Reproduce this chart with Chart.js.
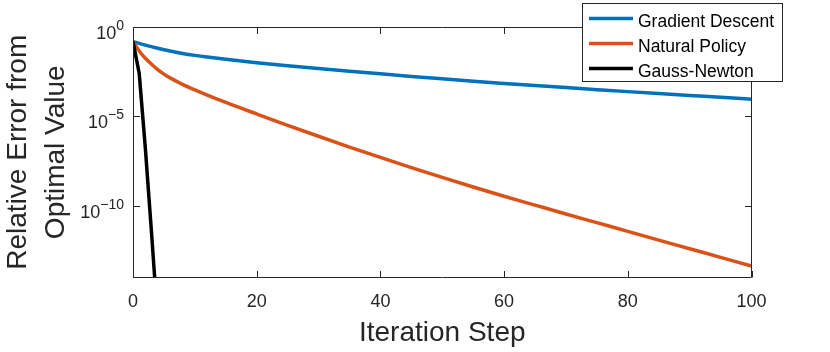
<!DOCTYPE html>
<html><head><meta charset="utf-8">
<script src="https://cdn.jsdelivr.net/npm/chart.js@4.4.0/dist/chart.umd.min.js"></script>
<style>html,body{margin:0;padding:0;background:#fff;}canvas{display:block;}</style>
</head><body>
<canvas id="c" width="830" height="352"></canvas>
<script>
// ---- data ----
const seriesNames = ['Gradient Descent', 'Natural Policy', 'Gauss-Newton'];
const gdSteps  = [0,1,2,4,6,8,10,12,15,20,25,30,35,40,45,50,55,60,65,70,75,80,85,90,95,100];
const gdValues = [1.45e-1,1.15e-1,9.23e-2,6.15e-2,4.30e-2,3.18e-2,2.47e-2,1.99e-2,1.49e-2,9.73e-3,
                  6.58e-3,4.55e-3,3.22e-3,2.31e-3,1.67e-3,1.22e-3,9.08e-4,6.81e-4,5.16e-4,3.96e-4,
                  3.06e-4,2.37e-4,1.85e-4,1.46e-4,1.14e-4,9.03e-5];
const npSteps  = [0,1,2,3,4,5,6,8,10,12,15,20,25,30,35,40,45,50,55,60,65,70,75,80,85,90,95,100];
const npValues = [1.45e-1,4.37e-2,1.70e-2,7.94e-3,3.98e-3,2.24e-3,1.38e-3,6.03e-4,2.95e-4,1.51e-4,
                  5.89e-5,1.35e-5,3.16e-6,7.76e-7,1.95e-7,5.13e-8,1.40e-8,3.98e-9,1.17e-9,3.55e-10,
                  1.14e-10,3.67e-11,1.20e-11,3.94e-12,1.29e-12,4.27e-13,1.41e-13,4.68e-14];
const gnSteps  = [0,1,2,3,4];
const gnValues = [1.45e-1,2.51e-3,1.58e-7,3.16e-12,3.98e-17];

const xTickValues = [0,20,40,60,80,100];
const xTickLabels = ['0','20','40','60','80','100'];
const yTickExponents = [0,-5,-10];
const xTitle = 'Iteration Step';
const yTitle = ['Relative Error from', 'Optimal Value'];
const colors = ['#0072BD', '#D95319', '#000000'];

// ---- chart ----
const axisColor = '#262626';
const FONT = "'Liberation Sans', Arial, Helvetica, sans-serif";
const toXY = (xs, ys) => xs.map((s, i) => ({x: s, y: ys[i]}));

const matlabAxes = {
  id: 'matlabAxes',
  afterDatasetsDraw(chart) {
    const {ctx, chartArea: a, scales: {x, y}} = chart;
    const L = Math.round(a.left) + 0.5, R = Math.round(a.right) - 0.5;
    const T = Math.round(a.top) + 0.5, B = Math.round(a.bottom) - 0.5;
    const tl = 6.5;
    ctx.save();
    ctx.strokeStyle = axisColor;
    ctx.lineWidth = 1;
    ctx.beginPath();
    ctx.rect(L, T, R - L, B - T);
    xTickValues.forEach(v => {
      const px = Math.round(x.getPixelForValue(v)) + 0.5;
      ctx.moveTo(px, B); ctx.lineTo(px, B - tl);
      ctx.moveTo(px, T); ctx.lineTo(px, T + tl);
    });
    yTickExponents.forEach(e => {
      const py = Math.round(y.getPixelForValue(Math.pow(10, e))) + 0.5;
      ctx.moveTo(L, py); ctx.lineTo(L + tl, py);
      ctx.moveTo(R, py); ctx.lineTo(R - tl, py);
    });
    ctx.stroke();
    // y tick labels: 10 with superscript exponent
    ctx.fillStyle = axisColor;
    ctx.textBaseline = 'alphabetic';
    ctx.textAlign = 'right';
    const rightEdge = a.left - 9;
    yTickExponents.forEach(e => {
      const py = y.getPixelForValue(Math.pow(10, e));
      const sup = (e < 0 ? '\u2212' : '') + Math.abs(e);
      ctx.font = '14px ' + FONT;
      const w = ctx.measureText(sup).width;
      ctx.fillText(sup, rightEdge, py + 3);
      ctx.font = '18px ' + FONT;
      ctx.fillText('10', rightEdge - w, py + 12);
    });
    ctx.restore();
  }
};

const legendBox = {
  id: 'legendBox',
  afterDraw(chart) {
    const {ctx} = chart;
    const bx = 582.5, by = 3.5, bw = 200, bh = 78;
    ctx.save();
    ctx.fillStyle = '#ffffff';
    ctx.fillRect(bx, by, bw, bh);
    ctx.strokeStyle = axisColor;
    ctx.lineWidth = 1;
    ctx.strokeRect(bx, by, bw, bh);
    ctx.font = '17.5px ' + FONT;
    ctx.textAlign = 'left';
    ctx.textBaseline = 'alphabetic';
    chart.data.datasets.forEach((ds, i) => {
      const base = 26.5 + i * 25;
      const ly = base - 8;
      ctx.strokeStyle = ds.borderColor;
      ctx.lineWidth = ds.borderWidth;
      ctx.beginPath();
      ctx.moveTo(589, ly); ctx.lineTo(633, ly);
      ctx.stroke();
      ctx.fillStyle = '#000';
      ctx.fillText(ds.label, 638, base);
    });
    ctx.restore();
  }
};

new Chart(document.getElementById('c'), {
  type: 'line',
  data: {
    datasets: [
      {label: seriesNames[0], data: toXY(gdSteps, gdValues), borderColor: colors[0], order: 2, cubicInterpolationMode: 'monotone'},
      {label: seriesNames[1], data: toXY(npSteps, npValues), borderColor: colors[1], order: 1, cubicInterpolationMode: 'monotone'},
      {label: seriesNames[2], data: toXY(gnSteps, gnValues), borderColor: colors[2], order: 0, tension: 0}
    ].map(d => Object.assign({borderWidth: 3.5, pointRadius: 0, fill: false, borderJoinStyle: 'round'}, d))
  },
  options: {
    responsive: false,
    animation: false,
    events: [],
    layout: {padding: {left: 0, right: 78.5, top: 26.5, bottom: 0}},
    plugins: {legend: {display: false}, tooltip: {enabled: false}},
    scales: {
      x: {
        type: 'linear', min: 0, max: 100,
        afterBuildTicks: s => { s.ticks = xTickValues.map(v => ({value: v})); },
        afterFit: s => { s.height = 74; },
        grid: {display: false, drawTicks: false},
        border: {display: false},
        ticks: {
          color: axisColor, padding: 13, maxRotation: 0, autoSkip: false,
          font: {family: FONT, size: 18},
          callback: (v) => xTickLabels[xTickValues.indexOf(v)]
        },
        title: {display: true, text: xTitle, color: axisColor, padding: {top: 0, bottom: 2},
                font: {family: FONT, size: 28, lineHeight: 1.2}}
      },
      y: {
        type: 'logarithmic', min: 1e-14, max: 1,
        afterFit: s => { s.width = 133; },
        grid: {display: false, drawTicks: false},
        border: {display: false},
        ticks: {display: false},
        title: {display: true, text: yTitle, color: axisColor, padding: 0,
                font: {family: FONT, size: 28, lineHeight: 1.336}}
      }
    }
  },
  plugins: [matlabAxes, legendBox]
});
</script>
</body></html>
